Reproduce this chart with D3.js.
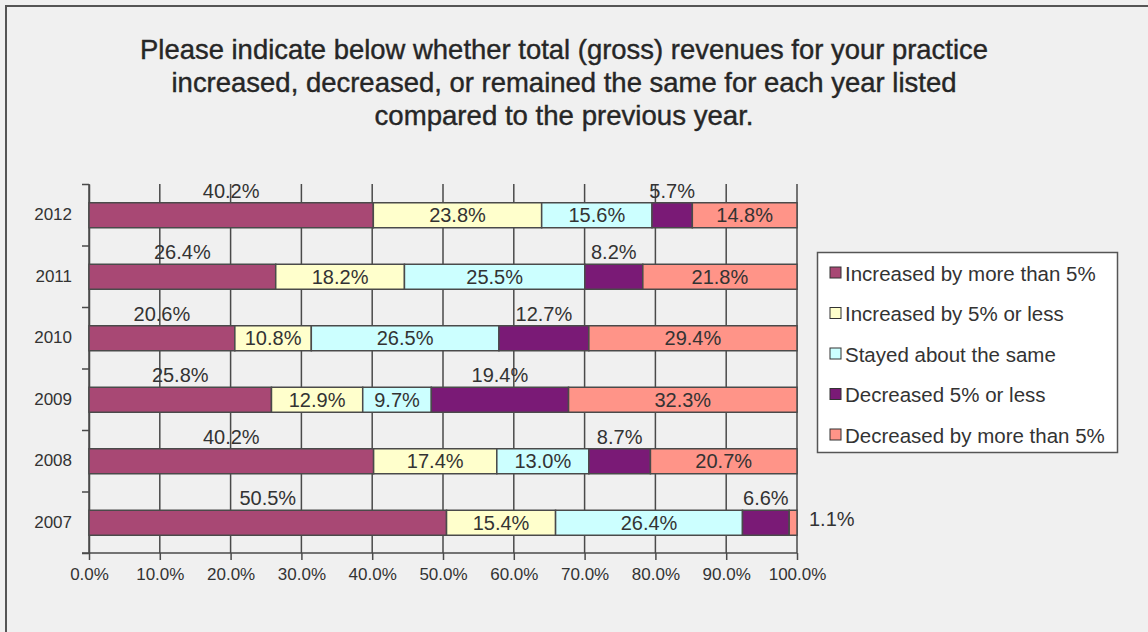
<!DOCTYPE html>
<html>
<head>
<meta charset="utf-8">
<script src="https://cdn.jsdelivr.net/npm/d3@7"></script>
<style>
  html, body { margin: 0; padding: 0; background: #f0f0f0; }
  svg { display: block; font-family: "Liberation Sans", Arial, sans-serif; }
</style>
</head>
<body>
<svg id="chart" width="1148" height="632"></svg>
<script>
// Survey responses per year (percent of respondents)
const years = ["2012", "2011", "2010", "2009", "2008", "2007"];
const seriesNames = [
  "Increased by more than 5%",
  "Increased by 5% or less",
  "Stayed about the same",
  "Decreased 5% or less",
  "Decreased by more than 5%"
];
const increasedMore = [40.2, 26.4, 20.6, 25.8, 40.2, 50.5];
const increasedLess = [23.8, 18.2, 10.8, 12.9, 17.4, 15.4];
const stayedSame    = [15.6, 25.5, 26.5, 9.7, 13.0, 26.4];
const decreasedLess = [5.7, 8.2, 12.7, 19.4, 8.7, 6.6];
const decreasedMore = [14.8, 21.8, 29.4, 32.3, 20.7, 1.1];
const xTickLabels = ["0.0%", "10.0%", "20.0%", "30.0%", "40.0%", "50.0%", "60.0%", "70.0%", "80.0%", "90.0%", "100.0%"];
const titleLines = [
  "Please indicate below whether total (gross) revenues for your practice",
  "increased, decreased, or remained the same for each year listed",
  "compared to the previous year."
];

const colors = ["#a84874", "#ffffcc", "#ccffff", "#7a1a76", "#ff9488"];
const textColor = "#333";
const lineColor = "#4a4a4a";

// Rows for the stack
const seriesValues = [increasedMore, increasedLess, stayedSame, decreasedLess, decreasedMore];
const rows = years.map((y, i) => {
  const r = { year: y };
  seriesNames.forEach((s, k) => r[s] = seriesValues[k][i]);
  return r;
});

const stack = d3.stack().keys(seriesNames).offset(d3.stackOffsetExpand);
const stacked = stack(rows);

const svg = d3.select("#chart");

// Outer frame
svg.append("rect")
  .attr("x", 6).attr("y", 6).attr("width", 1200).attr("height", 700)
  .attr("fill", "#f0f0f0").attr("stroke", "#555").attr("stroke-width", 2);

// Title
const titleWidths = [848, 785, 379];
svg.append("g").selectAll("text").data(titleLines).join("text")
  .attr("x", 564)
  .attr("y", (d, i) => 59 + i * 33)
  .attr("text-anchor", "middle")
  .attr("font-size", 28)
  .attr("fill", "#262626")
  .attr("stroke", "#262626")
  .attr("stroke-width", 0.4)
  .attr("textLength", (d, i) => titleWidths[i])
  .attr("lengthAdjust", "spacingAndGlyphs")
  .text(d => d);

// Scales
const plotTop = 184, plotBottom = 553, plotLeft = 89, plotRight = 797;
const x = d3.scaleLinear().domain([0, 1]).range([plotLeft, plotRight]);
const y = d3.scaleBand().domain(years).range([plotTop, plotBottom]).paddingInner(0).paddingOuter(0);
const barH = 25;
const barY = yr => y(yr) + (y.bandwidth() - barH) / 2 + 0.5;
const rowEdge = d3.scaleLinear().domain([0, years.length]).range([plotTop, plotBottom]);

// Vertical gridlines
svg.append("g").selectAll("line").data(d3.range(0, 1.0001, 0.1)).join("line")
  .attr("x1", d => x(d)).attr("x2", d => x(d))
  .attr("y1", plotTop).attr("y2", plotBottom)
  .attr("stroke", lineColor).attr("stroke-width", 1.5);

// X axis
const xAxis = d3.axisBottom(x)
  .tickValues(d3.range(0, 1.0001, 0.1))
  .tickFormat((d, i) => xTickLabels[i])
  .tickSize(7).tickSizeOuter(0).tickPadding(8);
const gx = svg.append("g").attr("transform", `translate(0,${plotBottom})`).call(xAxis);
gx.select(".domain").attr("stroke", lineColor).attr("stroke-width", 1.5)
  .attr("d", `M${plotLeft - 7},0H${plotRight}`);
gx.selectAll(".tick line").attr("stroke", lineColor).attr("stroke-width", 1.5);
gx.selectAll(".tick text").attr("font-size", 17).attr("fill", textColor)
  .attr("font-family", "Liberation Sans, Arial, sans-serif");

// Y axis: boundary ticks and year labels
const yTicks = d3.axisLeft(rowEdge).tickValues(d3.range(0, years.length + 1))
  .tickFormat("").tickSize(7).tickSizeOuter(0);
const gyt = svg.append("g").attr("transform", `translate(${plotLeft},0)`).call(yTicks);
gyt.select(".domain").attr("stroke", lineColor).attr("stroke-width", 1.5);
gyt.selectAll(".tick line").attr("stroke", lineColor).attr("stroke-width", 1.5);

const yLabels = d3.axisLeft(y).tickSize(0).tickPadding(17);
const gyl = svg.append("g").attr("transform", `translate(${plotLeft},0)`).call(yLabels);
gyl.select(".domain").remove();
gyl.selectAll(".tick text").attr("font-size", 17).attr("fill", textColor)
  .attr("font-family", "Liberation Sans, Arial, sans-serif");

// Bars
const layers = svg.append("g").selectAll("g").data(stacked).join("g")
  .attr("fill", (d, i) => colors[i]);
layers.selectAll("rect").data(d => d.map(s => ({ s, year: s.data.year }))).join("rect")
  .attr("x", d => x(d.s[0]))
  .attr("y", d => barY(d.year))
  .attr("width", d => x(d.s[1]) - x(d.s[0]))
  .attr("height", barH)
  .attr("stroke", lineColor).attr("stroke-width", 1.5);

// Value labels
const labels = [];
stacked.forEach((layer, k) => {
  layer.forEach(seg => {
    const yr = seg.data.year;
    const v = seg.data[seriesNames[k]];
    const x0 = x(seg[0]), x1 = x(seg[1]);
    let lx = (x0 + x1) / 2, ly = barY(yr) + barH / 2, anchor = "middle";
    if (k === 0 || k === 3) {
      // dark fills: label sits above the segment
      ly = barY(yr) - 12;
    } else if (x1 - x0 < 20) {
      // thin end segment: label sits past the bar end
      lx = x1 + 12; ly = barY(yr) + barH / 2 - 4; anchor = "start";
    }
    labels.push({ text: v.toFixed(1) + "%", x: lx, y: ly, anchor });
  });
});
svg.append("g").selectAll("text").data(labels).join("text")
  .attr("x", d => d.x).attr("y", d => d.y)
  .attr("text-anchor", d => d.anchor)
  .attr("dominant-baseline", "central")
  .attr("font-size", 20)
  .attr("fill", textColor)
  .text(d => d.text);

// Legend
const lg = svg.append("g");
lg.append("rect").attr("x", 817.5).attr("y", 252.5).attr("width", 300).attr("height", 200)
  .attr("fill", "#ffffff").attr("stroke", "#555").attr("stroke-width", 1.5);
const items = lg.selectAll("g.item").data(seriesNames).join("g").attr("class", "item")
  .attr("transform", (d, i) => `translate(0,${273 + i * 40.5})`);
items.append("rect").attr("x", 830).attr("y", -6).attr("width", 11).attr("height", 11)
  .attr("fill", (d, i) => colors[i]).attr("stroke", "#333").attr("stroke-width", 1);
items.append("text").attr("x", 845).attr("y", 0)
  .attr("dominant-baseline", "central")
  .attr("font-size", 20.5).attr("fill", textColor)
  .text(d => d);
</script>
</body>
</html>
